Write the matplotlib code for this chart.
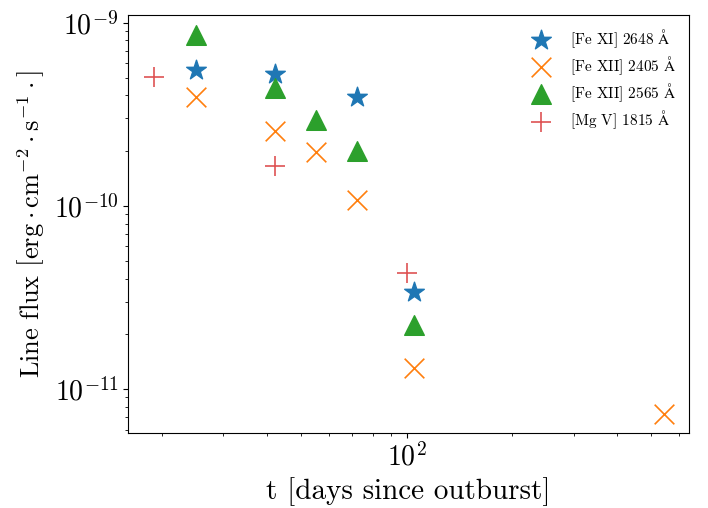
import numpy as np
import matplotlib
matplotlib.use('Agg')
import matplotlib.pyplot as plt

plt.rcParams['font.family'] = 'serif'
plt.rcParams['font.serif'] = ['cmr10', 'DejaVu Serif']
plt.rcParams['mathtext.fontset'] = 'cm'
plt.rcParams['axes.formatter.use_mathtext'] = True

# [Fe XI] 2648 A
t_fe11 = [25.0, 42.1, 72.2, 105.3]
f_fe11 = [5.52e-10, 5.23e-10, 3.94e-10, 3.39e-11]

# [Fe XII] 2405 A
t_fe12a = [25.0, 42.1, 55.1, 72.2, 105.3, 542.0]
f_fe12a = [3.94e-10, 2.56e-10, 1.96e-10, 1.07e-10, 1.31e-11, 7.31e-12]

# [Fe XII] 2565 A
t_fe12b = [25.0, 42.1, 55.1, 72.2, 105.3]
f_fe12b = [8.60e-10, 4.40e-10, 2.94e-10, 1.98e-10, 2.24e-11]

# [Mg V] 1815 A
t_mg5 = [19.0, 42.1, 100.0]
f_mg5 = [5.04e-10, 1.65e-10, 4.32e-11]

labels = [r'[Fe XI] 2648 $\mathrm{\AA}$', r'[Fe XII] 2405 $\mathrm{\AA}$',
          r'[Fe XII] 2565 $\mathrm{\AA}$', r'[Mg V] 1815 $\mathrm{\AA}$']

fig = plt.figure(figsize=(7.08, 5.08), dpi=100)
ax = fig.add_subplot(111)
fig.subplots_adjust(left=0.1812, right=0.9732, top=0.9705, bottom=0.1476)

ax.scatter(t_fe11, f_fe11, marker='*', s=220, color='tab:blue', label=labels[0])
ax.scatter(t_fe12a, f_fe12a, marker='x', s=200, color='tab:orange', linewidths=1.2, label=labels[1])
ax.scatter(t_fe12b, f_fe12b, marker='^', s=200, color='tab:green', label=labels[2])
ax.scatter(t_mg5, f_mg5, marker='+', s=200, color='tab:red', linewidths=1.2, alpha=0.8, label=labels[3])

ax.set_xscale('log')
ax.set_yscale('log')
ax.set_xlim(16.04, 641)
ax.set_ylim(5.75e-12, 1.10e-9)
ax.tick_params(labelsize=20)

ax.set_xlabel('t [days since outburst]', fontsize=21)
ax.set_ylabel(r'Line flux $\left[\mathrm{erg}\cdot\mathrm{cm}^{-2}\cdot\mathrm{s}^{-1}\cdot\right]$',
              fontsize=19, labelpad=5)
ax.legend(loc='upper right', frameon=False, fontsize=11, labelspacing=0.3,
          handletextpad=0.9, borderaxespad=0.4)

plt.savefig('out.png')
